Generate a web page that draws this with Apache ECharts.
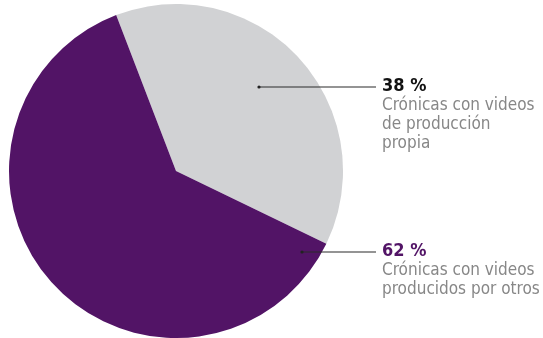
<!DOCTYPE html>
<html><head><meta charset="utf-8">
<script src="https://cdn.jsdelivr.net/npm/echarts@6/dist/echarts.min.js"></script>
<style>html,body{margin:0;padding:0;background:#fff}#c{width:543px;height:338px}</style>
</head><body><div id="c"></div>
<script>
const categories = ['Crónicas con videos\nde producción\npropia', 'Crónicas con videos\nproducidos por otros'];
const values = [38, 62];
const colors = ['#D1D2D4', '#521466'];
const pctColors = ['#111111', '#521466'];

const chart = echarts.init(document.getElementById('c'));
const FONT = '"DejaVu Sans Condensed", "Liberation Sans Narrow", sans-serif';
const labelPos = [
  {x: 382, y: 76, line: [[259, 87], [376, 87]]},
  {x: 382, y: 241, line: [[302, 252], [376, 252]]}
];
chart.setOption({
  animation: false,
  series: [{
    type: 'pie',
    center: [176, 171],
    radius: 167,
    startAngle: 111,
    clockwise: true,
    data: values.map((v, i) => ({
      value: v, name: categories[i],
      itemStyle: {color: colors[i]},
      label: {rich: {p: {color: pctColors[i]}}}
    })),
    label: {
      show: true,
      position: 'inside',
      overflow: 'none',
      formatter: p => '{p|' + p.value + ' %}\n' + p.name.split('\n').map(s => '{t|' + s + '}').join('\n'),
      rich: {
        p: {fontFamily: FONT, fontWeight: 'bold', fontSize: 18, lineHeight: 20},
        t: {fontFamily: FONT, fontSize: 17, color: '#878787', lineHeight: 19}
      }
    },
    labelLine: {show: false},
    labelLayout: p => ({
      x: labelPos[p.dataIndex].x, y: labelPos[p.dataIndex].y,
      align: 'left', verticalAlign: 'top'
    })
  }],
  graphic: labelPos.flatMap(l => [
    {type: 'line', shape: {x1: l.line[0][0], y1: l.line[0][1], x2: l.line[1][0], y2: l.line[1][1]}, style: {stroke: '#2a2a2a', lineWidth: 1.2}, z: 100},
    {type: 'circle', shape: {cx: l.line[0][0], cy: l.line[0][1], r: 1.6}, style: {fill: '#222'}, z: 100}
  ])
});
</script></body></html>
